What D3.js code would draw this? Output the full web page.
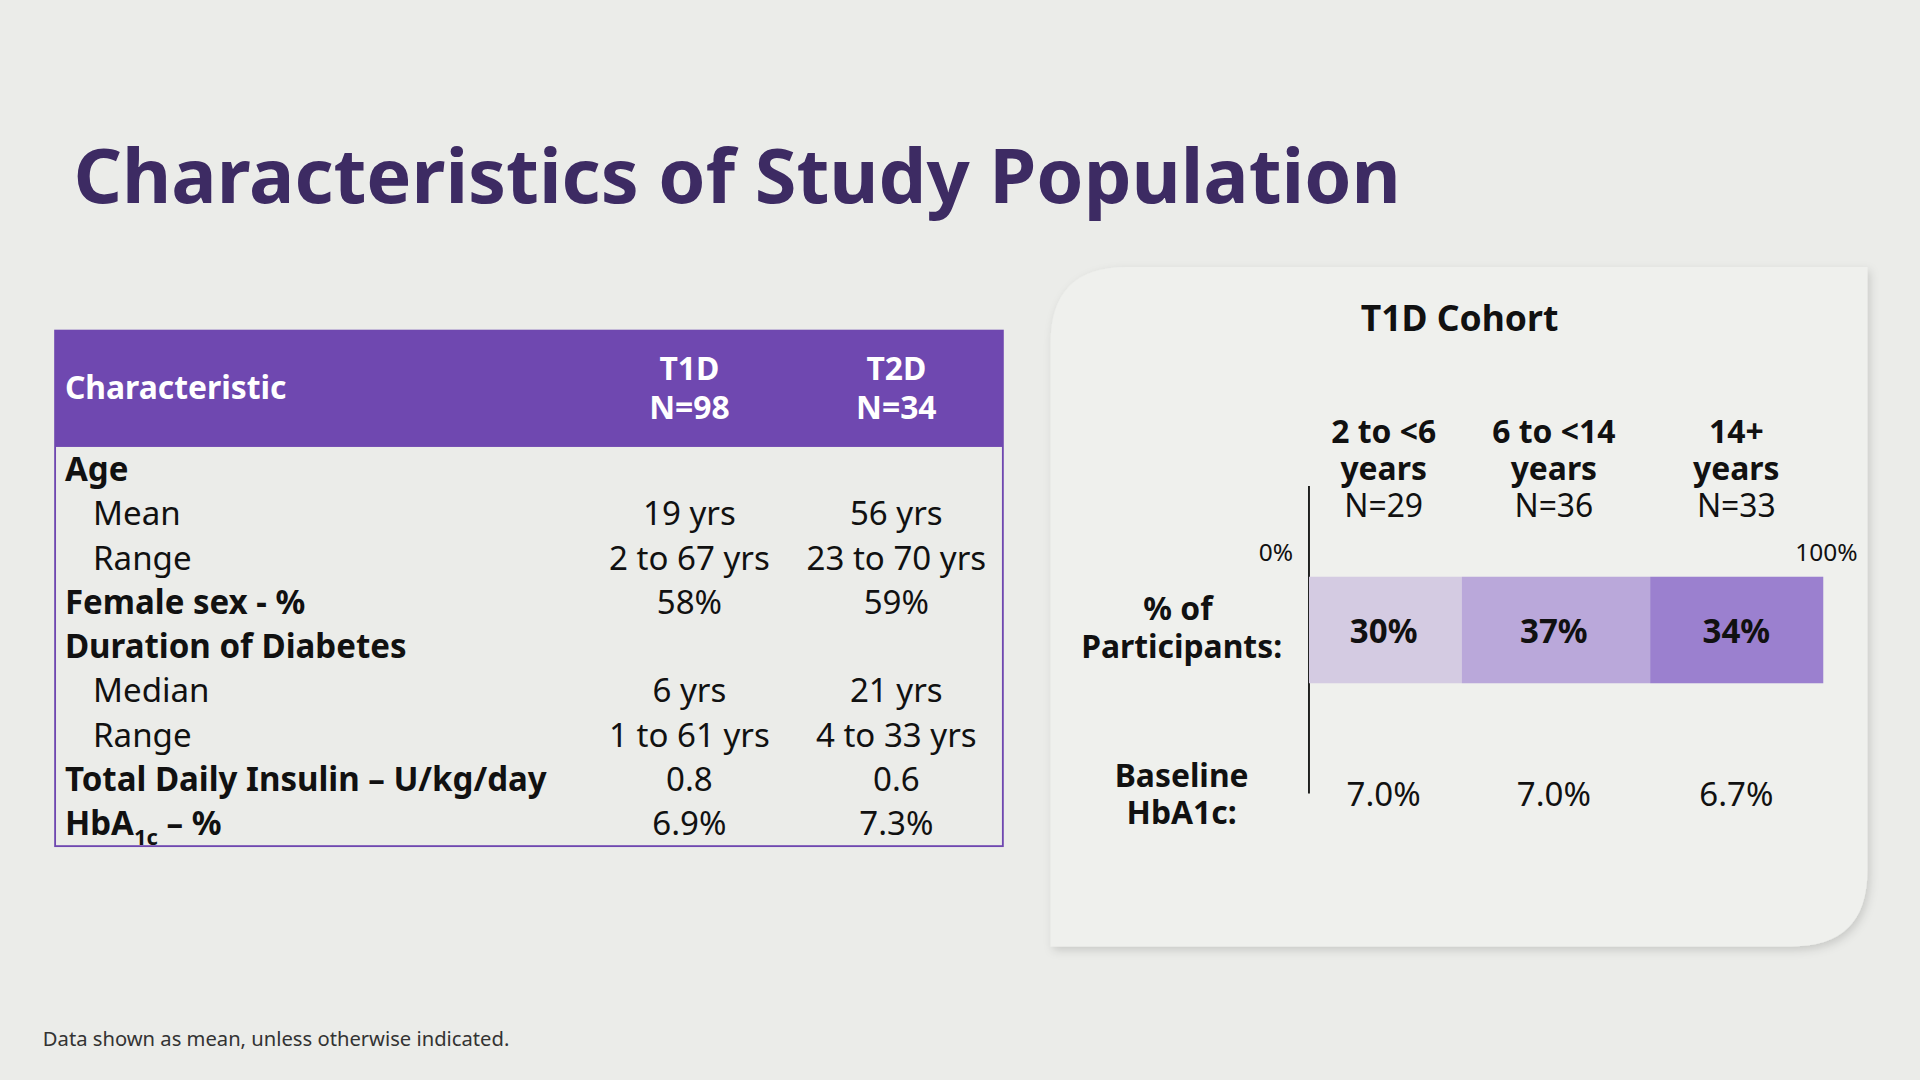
<!DOCTYPE html>
<html><head><meta charset="utf-8">
<script src="https://cdn.jsdelivr.net/npm/d3@7"></script>
<style>body{margin:0;background:#ebece9;}svg{display:block;font-family:"Noto Sans",sans-serif;}</style>
</head><body><svg></svg>
<script>
// data
const rowLabels = ['Age','Mean','Range','Female sex - %','Duration of Diabetes','Median','Range','Total Daily Insulin – U/kg/day','HbA1c – %'];
const rowBold = [true,false,false,true,true,false,false,true,true];
const t1dVals = ['','19 yrs','2 to 67 yrs','58%','','6 yrs','1 to 61 yrs','0.8','6.9%'];
const t2dVals = ['','56 yrs','23 to 70 yrs','59%','','21 yrs','4 to 33 yrs','0.6','7.3%'];
const ageGroups = [['2 to <6','years'],['6 to <14','years'],['14+','years']];
const groupN = ['N=29','N=36','N=33'];
const pctParticipants = [30,37,34];
const baselineHbA1c = ['7.0%','7.0%','6.7%'];
const segColors = ['#d4cbe2','#baa8da','#9b80cf'];

const svg = d3.select('svg').attr('width',1920).attr('height',1080).attr('viewBox','0 0 1568 882');
const ink = '#111';

svg.append('text').attr('x',60).attr('y',166).attr('font-size',62).attr('font-weight',700)
  .attr('fill','#3d2b63').attr('textLength',1084).attr('lengthAdjust','spacingAndGlyphs')
  .text('Characteristics of Study Population');

// Table
const tx0 = 45, tx1 = 819, ty0 = 270, thead = 365;
const rowY = d3.scalePoint().domain(d3.range(rowLabels.length)).range([383,672]);
svg.append('rect').attr('x',tx0).attr('y',ty0).attr('width',tx1-tx0).attr('height',691-ty0)
  .attr('fill','none').attr('stroke','#6f48b0').attr('stroke-width',1.5);
svg.append('rect').attr('x',tx0).attr('y',ty0).attr('width',tx1-tx0).attr('height',thead-ty0).attr('fill','#6f48b0');
const hdr = svg.append('g').attr('fill','#fff').attr('font-weight',700).attr('font-size',26);
hdr.append('text').attr('x',53).attr('y',326).text('Characteristic');
[[563,'T1D','N=98'],[732,'T2D','N=34']].forEach(([x,a,b])=>{
  hdr.append('text').attr('x',x).attr('y',310).attr('text-anchor','middle').text(a);
  hdr.append('text').attr('x',x).attr('y',342).attr('text-anchor','middle').text(b);
});
const rows = svg.append('g').attr('font-size',27).attr('fill',ink);
rowLabels.forEach((l,i)=>{
  const t = rows.append('text').attr('x',rowBold[i]?53:76).attr('y',rowY(i)+10)
    .attr('font-weight',rowBold[i]?700:400);
  if (l.startsWith('HbA1c')) {
    t.append('tspan').text('HbA');
    t.append('tspan').attr('font-size',18).attr('dy',8).text('1c');
    t.append('tspan').attr('dy',-8).text(' – %');
  } else t.text(l);
  rows.append('text').attr('x',563).attr('y',rowY(i)+10).attr('text-anchor','middle').text(t1dVals[i]);
  rows.append('text').attr('x',732).attr('y',rowY(i)+10).attr('text-anchor','middle').text(t2dVals[i]);
});

// Panel
const defs = svg.append('defs');
const f = defs.append('filter').attr('id','sh').attr('x','-10%').attr('y','-10%').attr('width','120%').attr('height','120%');
f.append('feDropShadow').attr('dx',2).attr('dy',3).attr('stdDeviation',4).attr('flood-color','#000').attr('flood-opacity',0.15);
const px0=858, px1=1525, py0=218, py1=773, r=62;
svg.append('path').attr('filter','url(#sh)').attr('fill','#eff0ed')
  .attr('d',`M${px0},${py0+r} Q${px0},${py0} ${px0+r},${py0} L${px1},${py0} L${px1},${py1-r} Q${px1},${py1} ${px1-r},${py1} L${px0},${py1} Z`);
svg.append('text').attr('x',1192).attr('y',270).attr('text-anchor','middle').attr('font-size',29)
  .attr('font-weight',700).attr('fill',ink).text('T1D Cohort');

const x = d3.scaleLinear().domain([0,d3.sum(pctParticipants)]).range([1069,1489]);
const cum = d3.cumsum(pctParticipants);
const starts = [0,...cum.slice(0,-1)];
const centers = [1130,1269,1418];
const cg = svg.append('g').attr('fill',ink).attr('text-anchor','middle').attr('font-size',26);
ageGroups.forEach((g,i)=>{
  cg.append('text').attr('x',centers[i]).attr('y',362).attr('font-weight',700).text(g[0]);
  cg.append('text').attr('x',centers[i]).attr('y',392).attr('font-weight',700).text(g[1]);
  cg.append('text').attr('x',centers[i]).attr('y',422).text(groupN[i]);
  cg.append('text').attr('x',centers[i]).attr('y',658).attr('font-size',27).text(baselineHbA1c[i]);
});
svg.append('line').attr('x1',x(0)).attr('x2',x(0)).attr('y1',397).attr('y2',648).attr('stroke',ink).attr('stroke-width',1.5);
svg.append('text').attr('x',x(0)-13).attr('y',458).attr('text-anchor','end').attr('font-size',20).attr('fill',ink).text('0%');
svg.append('text').attr('x',x.range()[1]+28).attr('y',458).attr('text-anchor','end').attr('font-size',20).attr('fill',ink).text('100%');
svg.selectAll('rect.seg').data(pctParticipants).enter().append('rect').attr('class','seg')
  .attr('x',(d,i)=>x(starts[i])).attr('width',(d,i)=>x(cum[i])-x(starts[i]))
  .attr('y',471).attr('height',87).attr('fill',(d,i)=>segColors[i]);
svg.selectAll('text.segl').data(pctParticipants).enter().append('text').attr('class','segl')
  .attr('x',(d,i)=>centers[i]).attr('y',525).attr('text-anchor','middle').attr('font-size',27)
  .attr('font-weight',700).attr('fill',ink).text(d=>d+'%');
const lg = svg.append('g').attr('text-anchor','middle').attr('font-weight',700).attr('font-size',26).attr('fill',ink);
lg.append('text').attr('x',962).attr('y',506).text('% of');
lg.append('text').attr('x',965).attr('y',537).text('Participants:');
lg.append('text').attr('x',965).attr('y',643).text('Baseline');
lg.append('text').attr('x',965).attr('y',673).text('HbA1c:');

svg.append('text').attr('x',35).attr('y',854).attr('font-size',16.5).attr('fill','#333')
  .text('Data shown as mean, unless otherwise indicated.');
</script></body></html>
